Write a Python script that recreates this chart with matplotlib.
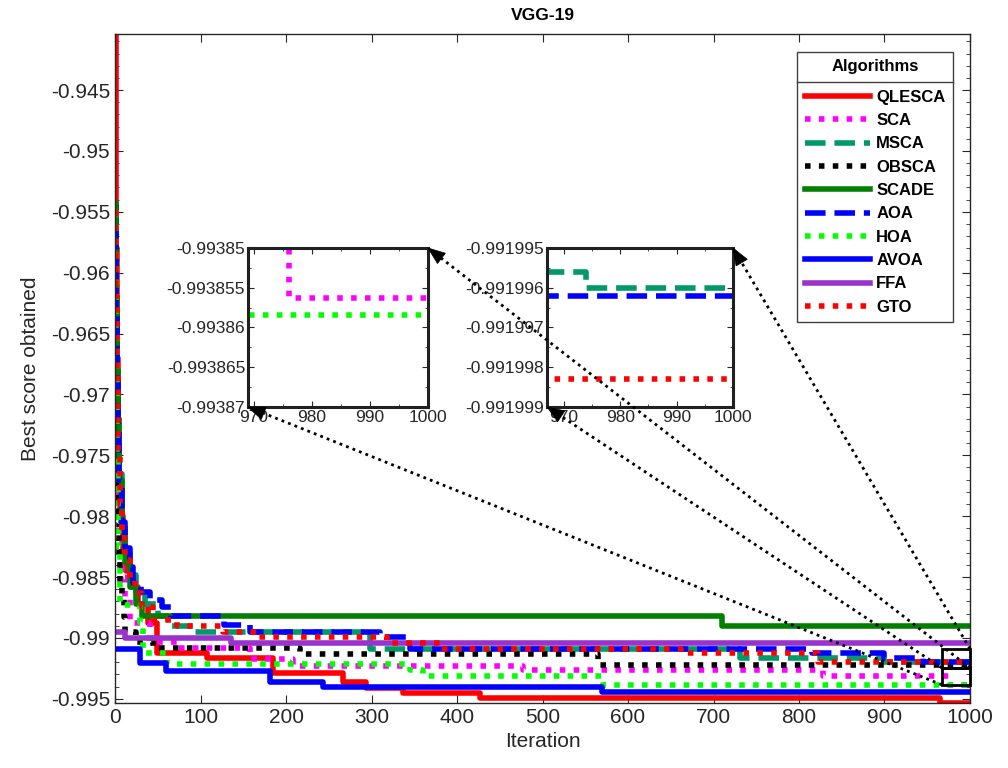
import numpy as np
import matplotlib
matplotlib.use("Agg")
import matplotlib.pyplot as plt
from matplotlib.ticker import AutoMinorLocator, FuncFormatter, MultipleLocator
from matplotlib.patches import Rectangle, Polygon
from matplotlib.lines import Line2D

plt.rcParams['font.family'] = ['Liberation Sans', 'DejaVu Sans']

# convergence curves (iteration where value changes, best score)
qlesca_it = [0, 1, 2, 3, 4, 6, 9, 13, 19, 27, 38, 49, 108, 185, 267, 294, 337, 427, 965, 1000]
qlesca_val = [-0.9404, -0.958, -0.967, -0.973, -0.9765, -0.980, -0.9828, -0.9845, -0.9858, -0.9872,
              -0.9888, -0.99123, -0.99168, -0.9929, -0.9936, -0.99408, -0.99451, -0.9949, -0.99535, -0.99535]

sca_it = [0, 1, 2, 3, 5, 8, 12, 17, 41, 72, 158, 208, 477, 828, 976, 1000]
sca_val = [-0.955, -0.965, -0.973, -0.978, -0.982, -0.9850, -0.9868, -0.98877, -0.99033, -0.99082,
           -0.99172, -0.9923, -0.99262, -0.99311, -0.9938563, -0.9938563]

msca_it = [0, 1, 2, 3, 5, 8, 12, 17, 25, 35, 50, 62, 91, 298, 731, 900, 974, 1000]
msca_val = [-0.955, -0.962, -0.968, -0.972, -0.9765, -0.9805, -0.9830, -0.9848, -0.9862, -0.9872,
            -0.9882, -0.98899, -0.98951, -0.9909, -0.99164, -0.9919956, -0.991996, -0.991996]

obsca_it = [0, 1, 2, 3, 4, 5, 6, 8, 10, 12, 25, 45, 216, 565, 1000]
obsca_val = [-0.9545, -0.963, -0.970, -0.9765, -0.9805, -0.9838, -0.9855, -0.98664, -0.9883, -0.9895,
             -0.99033, -0.99082, -0.9913, -0.9922, -0.9922]

scade_it = [0, 1, 2, 3, 5, 8, 12, 18, 25, 32, 710, 1000]
scade_val = [-0.9543, -0.962, -0.968, -0.972, -0.977, -0.981, -0.9838, -0.9858, -0.9872, -0.98817,
             -0.98905, -0.98905]

aoa_it = [0, 1, 2, 3, 5, 8, 12, 17, 21, 30, 41, 55, 65, 127, 158, 310, 345, 815, 900, 945, 1000]
aoa_val = [-0.9565, -0.963, -0.969, -0.973, -0.977, -0.9805, -0.9826, -0.9842, -0.9855, -0.9862,
           -0.9869, -0.98746, -0.98817, -0.98893, -0.98948, -0.98992, -0.9909, -0.9912, -0.99165,
           -0.9919962, -0.9919962]

hoa_it = [0, 1, 2, 4, 6, 29, 33, 61, 345, 360, 571, 1000]
hoa_val = [-0.955, -0.965, -0.975, -0.9825, -0.9873, -0.98875, -0.99123, -0.99218, -0.99265,
           -0.99317, -0.9938584, -0.9938584]

avoa_it = [0, 29, 60, 181, 243, 570, 1000]
avoa_val = [-0.9909, -0.99205, -0.9927, -0.99366, -0.99407, -0.99448, -0.99448]

ffa_it = [0, 12, 136, 1000]
ffa_val = [-0.98951, -0.9900, -0.9904, -0.9904]

gto_it = [0, 1, 2, 3, 4, 6, 8, 12, 18, 23, 31, 45, 72, 126, 166, 318, 380, 662, 822, 1000]
gto_val = [-0.955, -0.962, -0.968, -0.972, -0.975, -0.9790, -0.9818, -0.9836, -0.9852, -0.9863,
           -0.9875, -0.9885, -0.98899, -0.98951, -0.98994, -0.99038, -0.9909, -0.99128, -0.9919983,
           -0.9919983]

names = ['QLESCA', 'SCA', 'MSCA', 'OBSCA', 'SCADE', 'AOA', 'HOA', 'AVOA', 'FFA', 'GTO']
iters = [qlesca_it, sca_it, msca_it, obsca_it, scade_it, aoa_it, hoa_it, avoa_it, ffa_it, gto_it]
vals = [qlesca_val, sca_val, msca_val, obsca_val, scade_val, aoa_val, hoa_val, avoa_val, ffa_val, gto_val]
colors = ['#ff0000', '#ff00ff', '#00996a', '#000000', '#007f00', '#0000ff', '#00ff00', '#0000ff', '#9933cc', '#ff0000']
styles = ['-', (0, (1, 1.5)), '--', (0, (1, 1.5)), '-', '--', (0, (1, 1.5)), '-', '-', (0, (1, 1.5))]

# zoom windows
ins1_names = ['SCA', 'HOA']
ins1_xlim = (969, 1000)
ins1_ylim = (-0.99387, -0.99385)
ins2_names = ['MSCA', 'AOA', 'GTO']
ins2_xlim = (967, 1000)
ins2_ylim = (-0.991999, -0.991995)

txt = '#262626'
fig = plt.figure(figsize=(10.08, 7.68), dpi=100)
ax = fig.add_axes([0.1141, 0.0846, 0.8482, 0.8711])

lw = 4
for n, x, y, c, s in zip(names, iters, vals, colors, styles):
    ax.plot(x, y, drawstyle='steps-post', color=c, linestyle=s, lw=lw, label=n)

allv = np.concatenate([np.array(v) for v in vals])
ax.set_xlim(0, 1000)
ax.set_ylim(allv.min(), allv.max())
ax.xaxis.set_major_locator(MultipleLocator(100))
ax.yaxis.set_major_locator(MultipleLocator(0.005))
ax.yaxis.set_minor_locator(AutoMinorLocator(5))
ax.yaxis.set_major_formatter(FuncFormatter(lambda v, p: '%g' % round(v, 6)))
ax.tick_params(which='both', direction='in', top=True, right=True, colors=txt, labelsize=15)
ax.tick_params(which='major', length=6)
ax.tick_params(which='minor', length=3)
for sp in ax.spines.values():
    sp.set_color(txt)
    sp.set_linewidth(1)
ax.set_xlabel('Iteration', fontsize=15, color=txt)
ax.set_ylabel('Best score obtained', fontsize=15, color=txt, labelpad=8)
ax.set_title('VGG-19', fontsize=12.5, fontweight='bold', color='k', pad=10)

# boxes marking the zoomed regions
ax.add_patch(Rectangle((967, -0.99246), 33, 0.00156, fill=False, ec='k', lw=2, zorder=5, clip_on=False))
ax.add_patch(Rectangle((967, -0.99385), 33, 0.00139, fill=False, ec='k', lw=2, zorder=5, clip_on=False))

leg = ax.legend(title='Algorithms', loc='upper right', bbox_to_anchor=(0.9454, 0.9323),
                bbox_transform=fig.transFigure, borderaxespad=0, fancybox=False, framealpha=1,
                edgecolor='#404040', prop={'weight': 'bold', 'size': 12}, handlelength=3.9,
                labelspacing=0.5, handletextpad=0.4, borderpad=0.45)
leg.get_title().set_fontweight('bold')
leg.get_title().set_fontsize(12)
leg.get_frame().set_linewidth(1)
leg._legend_box.sep = 11

def make_inset(rect, keep, xlim, ylim):
    a = fig.add_axes(rect)
    for n, x, y, c, s in zip(names, iters, vals, colors, styles):
        if n in keep:
            a.plot(x, y, drawstyle='steps-post', color=c, linestyle=s, lw=lw)
    a.set_xlim(*xlim)
    a.set_ylim(*ylim)
    a.set_xticks([970, 980, 990, 1000])
    a.set_yticks(np.linspace(ylim[0], ylim[1], 5))
    a.yaxis.set_major_formatter(FuncFormatter(lambda v, p: '%g' % round(v, 7)))
    a.xaxis.set_minor_locator(AutoMinorLocator(2))
    a.yaxis.set_minor_locator(AutoMinorLocator(2))
    a.tick_params(which='both', direction='in', top=True, right=True, colors=txt, labelsize=12.5, pad=2)
    a.tick_params(which='major', length=4)
    a.tick_params(which='minor', length=2)
    for sp in a.spines.values():
        sp.set_linewidth(2.2)
        sp.set_color('#202020')
    return a

ins1 = make_inset([0.2460, 0.4701, 0.1786, 0.2070], ins1_names, ins1_xlim, ins1_ylim)
ins2 = make_inset([0.5427, 0.4701, 0.1845, 0.2070], ins2_names, ins2_xlim, ins2_ylim)

fig.canvas.draw()
r = fig.canvas.get_renderer()

# dotted arrows from the boxes to the insets
links = [((967, -0.99385), ins1, (0, 0)),
         ((1000, -0.99246), ins1, (1, 1)),
         ((967, -0.99246), ins2, (0, 0)),
         ((1000, -0.9909), ins2, (1, 1))]
for tail, a, corner in links:
    p0 = ax.transData.transform(tail)
    p1 = a.transAxes.transform(corner)
    d = (p1 - p0) / np.hypot(*(p1 - p0))
    nrm = np.array([-d[1], d[0]])
    hl, hw = 17, 6.5
    base = p1 - d * hl
    fig.add_artist(Line2D([p0[0], base[0]], [p0[1], base[1]], transform=None, color='k', lw=2,
                          linestyle=(0, (1, 1.5)), zorder=20))
    fig.add_artist(Polygon([p1, base + nrm * hw, base - nrm * hw], closed=True, transform=None,
                           fc='k', ec='k', lw=0.5, zorder=21))

# separator under the legend title
lb = leg.get_window_extent(r)
tb = leg.get_title().get_window_extent(r)
t0 = leg.get_texts()[0].get_window_extent(r)
ysep = (tb.y0 + t0.y1) / 2
fig.add_artist(Line2D([lb.x0, lb.x1], [ysep, ysep], transform=None, color='#404040', lw=1, zorder=10))

fig.savefig('out.png', dpi=100)
